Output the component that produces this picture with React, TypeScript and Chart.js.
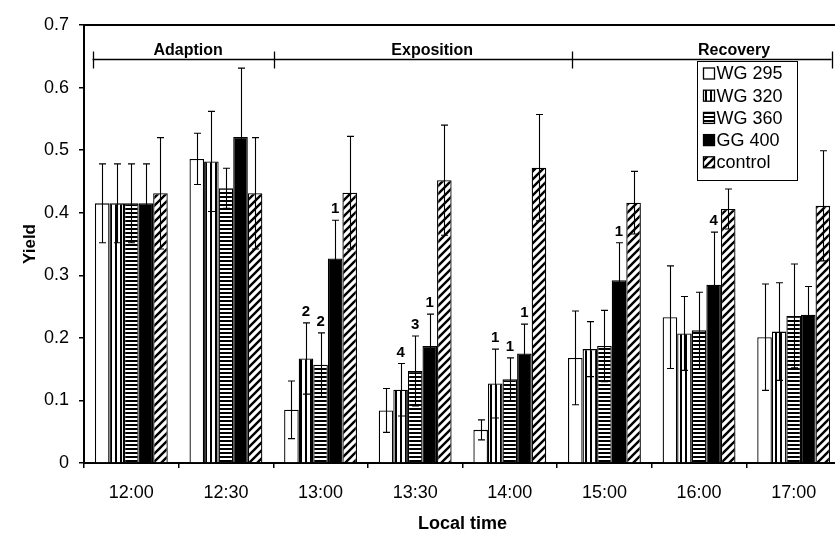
import React, { useEffect, useRef } from 'react';
import { Chart, registerables } from 'chart.js';

Chart.register(...registerables);

// ---------- data ----------
const categories = ['12:00', '12:30', '13:00', '13:30', '14:00', '15:00', '16:00', '17:00'];
const seriesNames = ['WG 295', 'WG 320', 'WG 360', 'GG 400', 'control'];

const wg295 = [0.415, 0.486, 0.085, 0.084, 0.053, 0.168, 0.233, 0.201];
const wg295Err = [0.063, 0.041, 0.046, 0.035, 0.016, 0.075, 0.082, 0.085];
const wg320 = [0.415, 0.482, 0.167, 0.117, 0.127, 0.182, 0.207, 0.210];
const wg320Err = [0.063, 0.080, 0.057, 0.042, 0.055, 0.044, 0.059, 0.078];
const wg360 = [0.415, 0.439, 0.157, 0.147, 0.134, 0.187, 0.212, 0.235];
const wg360Err = [0.063, 0.032, 0.051, 0.056, 0.034, 0.057, 0.061, 0.083];
const gg400 = [0.415, 0.521, 0.327, 0.187, 0.175, 0.292, 0.285, 0.237];
const gg400Err = [0.063, 0.110, 0.061, 0.051, 0.047, 0.060, 0.084, 0.045];
const control = [0.431, 0.431, 0.432, 0.452, 0.472, 0.416, 0.406, 0.411];
const controlErr = [0.089, 0.089, 0.090, 0.088, 0.085, 0.050, 0.032, 0.088];

const sigWG295 = ['', '', '', '', '', '', '', ''];
const sigWG320 = ['', '', '2', '4', '1', '', '', ''];
const sigWG360 = ['', '', '2', '3', '1', '', '', ''];
const sigGG400 = ['', '', '1', '1', '1', '1', '4', ''];
const sigControl = ['', '', '', '', '', '', '', ''];

const yTickValues = [0, 0.1, 0.2, 0.3, 0.4, 0.5, 0.6, 0.7];

const phaseNames = ['Adaption', 'Exposition', 'Recovery'];
// phase boundaries and label anchors expressed in category-index units
const phaseBounds = [-0.41, 1.51, 4.66, 7.4];
const phaseLabelAt = [0.6, 3.18, 6.37];

const FONT = "'Liberation Sans', Arial, Helvetica, sans-serif";

function makePattern(kind: string): CanvasPattern | string {
  const c = document.createElement('canvas');
  const ctx = c.getContext('2d')!;
  if (kind === 'white') return '#ffffff';
  if (kind === 'black') return '#000000';
  if (kind === 'vert') {
    c.width = 5; c.height = 5;
    ctx.fillStyle = '#fff'; ctx.fillRect(0, 0, 5, 5);
    ctx.fillStyle = '#000'; ctx.fillRect(0, 0, 2, 5);
  } else if (kind === 'horiz') {
    c.width = 4; c.height = 4;
    ctx.fillStyle = '#fff'; ctx.fillRect(0, 0, 4, 4);
    ctx.fillStyle = '#000'; ctx.fillRect(0, 0, 4, 2);
  } else {
    const s = 8;
    c.width = s; c.height = s;
    ctx.fillStyle = '#fff'; ctx.fillRect(0, 0, s, s);
    ctx.strokeStyle = '#000'; ctx.lineWidth = 2.4;
    ctx.beginPath();
    ctx.moveTo(-1, s + 1); ctx.lineTo(s + 1, -1);
    ctx.moveTo(-1, 1); ctx.lineTo(1, -1);
    ctx.moveTo(s - 1, s + 1); ctx.lineTo(s + 1, s - 1);
    ctx.stroke();
  }
  return ctx.createPattern(c, 'repeat')!;
}

export default function App() {
  const ref = useRef<HTMLCanvasElement>(null);

  useEffect(() => {
    const canvas = ref.current!;
    const values = [wg295, wg320, wg360, gg400, control];
    const errs = [wg295Err, wg320Err, wg360Err, gg400Err, controlErr];
    const sigs = [sigWG295, sigWG320, sigWG360, sigGG400, sigControl];
    const kinds = ['white', 'vert', 'horiz', 'black', 'diag'];
    const fills = kinds.map(makePattern);

    const overlay = {
      id: 'overlay',
      afterDatasetsDraw(chart: any) {
        const ctx = chart.ctx as CanvasRenderingContext2D;
        const y = chart.scales.y;
        const x = chart.scales.x;
        const area = chart.chartArea;
        ctx.save();
        // error bars
        ctx.strokeStyle = '#000';
        ctx.lineWidth = 1.1;
        values.forEach((vals, di) => {
          const meta = chart.getDatasetMeta(di);
          vals.forEach((v, j) => {
            const el = meta.data[j];
            const px = Math.round(el.x) + 0.5;
            const yt = y.getPixelForValue(v + errs[di][j]);
            const yb = y.getPixelForValue(v - errs[di][j]);
            ctx.beginPath();
            ctx.moveTo(px, yt); ctx.lineTo(px, yb);
            ctx.moveTo(px - 3.5, yt); ctx.lineTo(px + 3.5, yt);
            ctx.moveTo(px - 3.5, yb); ctx.lineTo(px + 3.5, yb);
            ctx.stroke();
            const s = sigs[di][j];
            if (s) {
              ctx.fillStyle = '#000';
              ctx.font = `bold 15px ${FONT}`;
              ctx.textAlign = 'center';
              ctx.textBaseline = 'alphabetic';
              ctx.fillText(s, el.x, yt - 7);
            }
          });
        });
        // top frame line
        ctx.lineWidth = 2;
        ctx.beginPath();
        ctx.moveTo(area.left, area.top);
        ctx.lineTo(area.right, area.top);
        ctx.stroke();
        // phase bar
        const ly = area.top + 34.5;
        ctx.lineWidth = 1.3;
        ctx.beginPath();
        const bx = phaseBounds.map((b) => x.getPixelForValue(0) + b * (x.getPixelForValue(1) - x.getPixelForValue(0)));
        ctx.moveTo(bx[0], ly); ctx.lineTo(bx[bx.length - 1], ly);
        bx.forEach((b) => { ctx.moveTo(Math.round(b) + 0.5, ly - 8); ctx.lineTo(Math.round(b) + 0.5, ly + 9); });
        ctx.stroke();
        ctx.fillStyle = '#000';
        ctx.font = `bold 16px ${FONT}`;
        ctx.textAlign = 'center';
        ctx.textBaseline = 'alphabetic';
        phaseNames.forEach((n, i) => {
          const px = x.getPixelForValue(0) + phaseLabelAt[i] * (x.getPixelForValue(1) - x.getPixelForValue(0));
          ctx.fillText(n, px, ly - 5);
        });
        ctx.restore();
      },
      afterDraw(chart: any) {
        const ctx = chart.ctx as CanvasRenderingContext2D;
        ctx.save();
        const lx = 697.5, ly = 61.5, lw = 100, lh = 119;
        ctx.fillStyle = '#fff';
        ctx.fillRect(lx, ly, lw, lh);
        ctx.strokeStyle = '#000';
        ctx.lineWidth = 1;
        ctx.strokeRect(lx, ly, lw, lh);
        ctx.font = `18px ${FONT}`;
        ctx.textAlign = 'left';
        ctx.textBaseline = 'middle';
        chart.data.datasets.forEach((ds: any, i: number) => {
          const cy = ly + 12 + i * 22.2;
          ctx.fillStyle = ds.backgroundColor;
          ctx.fillRect(lx + 6, cy - 5.5, 11, 11);
          ctx.lineWidth = 1.3;
          ctx.strokeRect(lx + 6, cy - 5.5, 11, 11);
          ctx.fillStyle = '#000';
          ctx.fillText(ds.label, lx + 19, cy + 1);
        });
        ctx.restore();
      },
    };

    const chart = new Chart(canvas, {
      type: 'bar',
      data: {
        labels: categories,
        datasets: seriesNames.map((name, i) => ({
          label: name,
          data: values[i],
          backgroundColor: fills[i] as any,
          borderColor: '#000',
          borderWidth: 1.3,
          barPercentage: 1,
          categoryPercentage: 0.77,
        })),
      },
      options: {
        responsive: false,
        animation: false,
        devicePixelRatio: 1,
        layout: { padding: { top: 25, right: 0, left: 0, bottom: 0 } },
        plugins: { legend: { display: false }, tooltip: { enabled: false } },
        scales: {
          x: {
            afterFit: (s: any) => { s.height = 73; },
            grid: { display: true, drawOnChartArea: false, drawTicks: true, tickLength: 5, color: '#000', lineWidth: 1.5, offset: true },
            border: { display: true, color: '#000', width: 2 },
            ticks: { color: '#000', font: { family: FONT, size: 18 }, padding: 14, maxRotation: 0 },
            title: { display: true, text: 'Local time', color: '#000', font: { family: FONT, size: 18, weight: 'bold' }, padding: { top: 0, bottom: 1 } },
          },
          y: {
            min: 0,
            max: 0.7,
            afterFit: (s: any) => { s.width = 84; },
            afterBuildTicks: (s: any) => { s.ticks = yTickValues.map((v) => ({ value: v })); },
            grid: { display: true, drawOnChartArea: false, drawTicks: true, tickLength: 5, color: '#000', lineWidth: 1.5 },
            border: { display: true, color: '#000', width: 2 },
            ticks: {
              color: '#000',
              font: { family: FONT, size: 18 },
              padding: 10,
              callback: (v: any) => (Number(v) === 0 ? '0' : Number(v).toFixed(1)),
            },
            title: { display: true, text: 'Yield', color: '#000', font: { family: FONT, size: 17, weight: 'bold' }, padding: { top: 20, bottom: 0 } },
          },
        },
      },
      plugins: [overlay],
    });
    return () => chart.destroy();
  }, []);

  return (
    <div style={{ position: 'fixed', left: 0, top: 0, width: 835, height: 536, overflow: 'hidden', background: '#fff' }}>
      <canvas ref={ref} width={841} height={536} style={{ display: 'block', width: 841, height: 536 }} />
    </div>
  );
}
